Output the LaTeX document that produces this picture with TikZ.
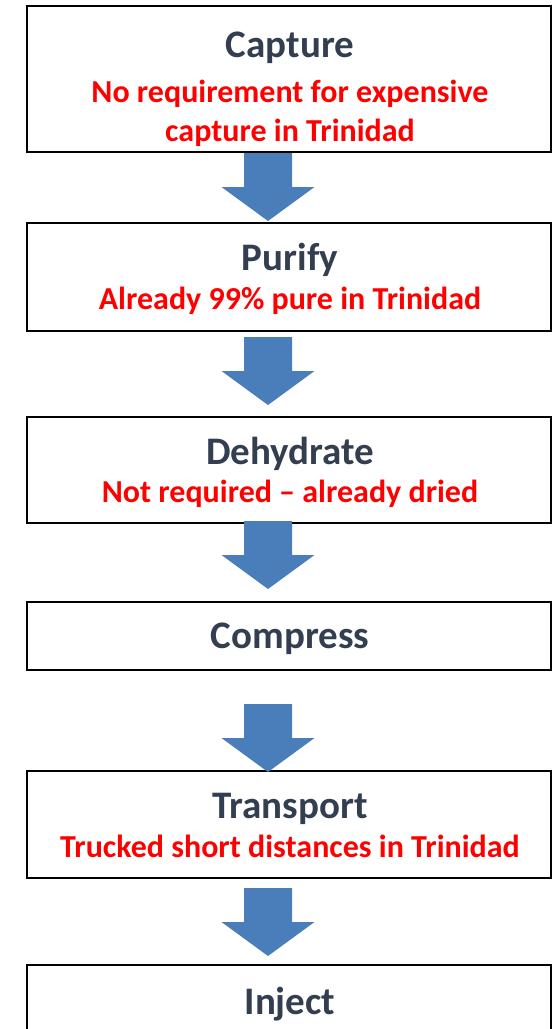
\documentclass[tikz,border=0pt]{standalone}
\usepackage{fontspec}
\setmainfont{Carlito}
\definecolor{titlegray}{HTML}{333F50}
\definecolor{notered}{HTML}{FF0000}
\definecolor{arrowblue}{HTML}{4A7EBB}
\tikzset{
  stage/.style={draw=black, line width=1.8pt, minimum width=524pt, inner sep=0pt},
  title/.style={anchor=base, text=titlegray, font=\bfseries\fontsize{39}{47}\selectfont, inner sep=0pt},
  note/.style={anchor=base, text=notered, font=\bfseries\fontsize{32}{38}\selectfont, inner sep=0pt},
  blockarrow/.pic={\fill[arrowblue] (-24,0) -- (24,0) -- (24,34) -- (46.5,34) -- (0,68) -- (-46.5,34) -- (-24,34) -- cycle;}
}
\begin{document}
\begin{tikzpicture}[x=1pt, y=-1pt]
  \useasboundingbox (0,0) rectangle (555,1029);
  \clip (0,0) rectangle (555,1029);
  \node[stage, minimum height=146pt] (capture) at (289.3,79) {};
  \node[stage, minimum height=108pt] (purify) at (289.3,277) {};
  \node[stage, minimum height=106pt] (dehydrate) at (289.3,470) {};
  \node[stage, minimum height=68pt] (compress) at (289.3,636) {};
  \node[stage, minimum height=107pt] (transport) at (289.3,824.5) {};
  \node[stage, minimum height=107pt] (inject) at (289.3,1018.5) {};

  \node[title] (captureT) at (290,57) {Capture};
  \node[note] (captureN1) at (290,102) {No requirement for expensive};
  \node[note] (captureN2) at (290,141) {capture in Trinidad};
  \node[title] (purifyT) at (290,270) {Purify};
  \node[note] (purifyN) at (290,309) {Already 99\% pure in Trinidad};
  \node[title] (dehydrateT) at (290,464) {Dehydrate};
  \node[note] (dehydrateN) at (290,502) {Not required – already dried};
  \node[title] (compressT) at (290,648) {Compress};
  \node[title] (transportT) at (290,818) {Transport};
  \node[note] (transportN) at (290,857) {Trucked short distances in Trinidad};
  \node[title] (injectT) at (290,1014) {Inject};

  \pic at (268,153) {blockarrow};
  \pic at (268,337) {blockarrow};
  \pic at (268,521) {blockarrow};
  \pic at (268,704) {blockarrow};
  \pic at (268,888) {blockarrow};
\end{tikzpicture}
\end{document}
